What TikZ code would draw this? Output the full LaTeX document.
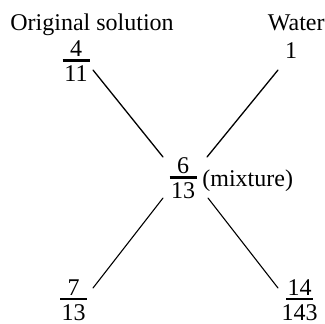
\documentclass[tikz,border=0pt]{standalone}
\usepackage{amsmath}
\usepackage{fontspec}
\setmainfont{Liberation Serif}
\usepackage{tikz}
\usetikzlibrary{calc}

% fraction with a thick bar of fixed width
\newcommand{\fr}[2]{$\genfrac{}{}{1.2pt}{1}{\mbox{\makebox[13.5pt]{#1}}}{\mbox{\makebox[13.5pt]{#2}\rule{0pt}{8.8pt}}}$}

\begin{document}
\begin{tikzpicture}[
    x=0.5pt, y=-0.5pt,
    lbl/.style={inner sep=0pt, font=\fontsize{12}{14}\selectfont},
    link/.style={line width=0.65pt, line cap=round},
    linkthin/.style={line width=0.55pt, line cap=round}
]
\useasboundingbox (0,0) rectangle (325,323);

% ===== TOP: the two starting liquids =====
\node[lbl, anchor=base west] (orig) at (10,30) {Original solution};
\node[lbl, anchor=base east] (water) at (325,30) {Water};

\node[lbl] (frA) at (76,61.2) {\fr{4}{11}};
\node[lbl, anchor=base] (one) at (291,58) {1};

% ===== MIDDLE: the mixture =====
\node[lbl] (frM) at (183,178.2) {\fr{6}{13}};
\node[lbl, anchor=base west] (mix) at (202,186) {(mixture)};

% ===== BOTTOM: the differences =====
\node[lbl] (frB) at (73.5,300.1) {\fr{7}{13}};
\node[lbl] (frC) at (299.5,300.2) {\fr{14}{143}};

% Cross lines
\draw[link] ([shift={(17,8.8)}]frA.center) -- ([shift={(-20,-21.2)}]frM.center);
\draw[link] ([shift={(-13,12)}]one.base) -- ([shift={(24,-21.2)}]frM.center);
\draw[linkthin] ([shift={(-20,19.8)}]frM.center) -- ([shift={(19.5,-12.1)}]frB.center);
\draw[linkthin] ([shift={(25,19.8)}]frM.center) -- ([shift={(-21.5,-12.2)}]frC.center);

\end{tikzpicture}
\end{document}
